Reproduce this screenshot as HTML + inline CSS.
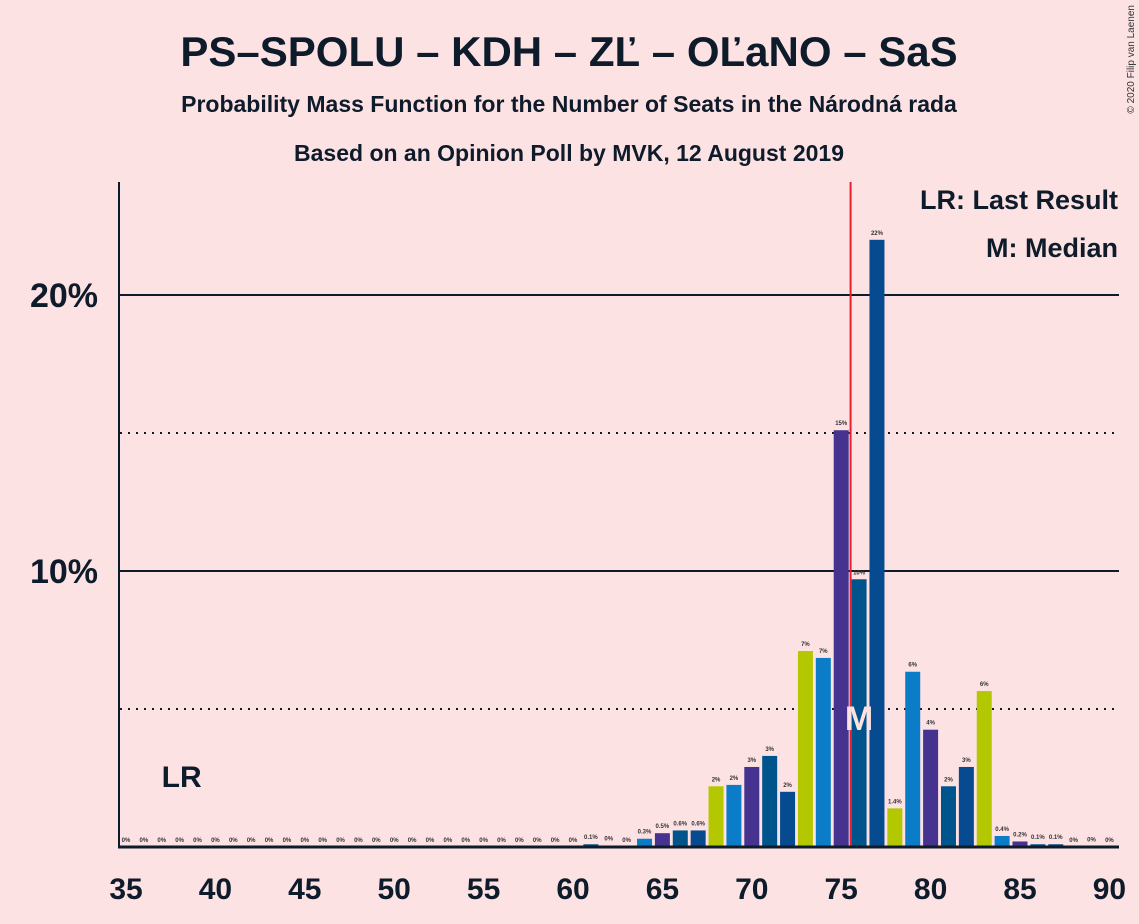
<!DOCTYPE html>
<html><head><meta charset="utf-8"><style>
body{margin:0;background:#fde2e4;font-family:"Liberation Sans",sans-serif;}
svg{display:block}
</style></head><body>
<svg width="1139" height="924" xmlns="http://www.w3.org/2000/svg">
<rect width="1139" height="924" fill="#fde2e4"/>
<text x="569" y="66" text-anchor="middle" font-size="42" font-weight="bold" fill="#0d1b2a">PS–SPOLU – KDH – ZĽ – OĽaNO – SaS</text>
<text x="569" y="112" text-anchor="middle" font-size="23" font-weight="bold" fill="#0d1b2a">Probability Mass Function for the Number of Seats in the Národná rada</text>
<text x="569" y="161" text-anchor="middle" font-size="23" font-weight="bold" fill="#0d1b2a">Based on an Opinion Poll by MVK, 12 August 2019</text>
<text x="1134" y="5" font-size="10" fill="#333" transform="rotate(-90 1134 5)" text-anchor="end">© 2020 Filip van Laenen</text>
<g id="grid"></g>
<g id="bars"></g>
<g id="labels"></g>
<line x1="119" y1="182" x2="119" y2="848" stroke="#0d1b2a" stroke-width="2"/>
<line x1="118" y1="847" x2="1119" y2="847" stroke="#0d1b2a" stroke-width="3"/>
<text x="1118" y="209" text-anchor="end" font-size="27" font-weight="bold" fill="#0d1b2a">LR: Last Result</text>
<text x="1118" y="257" text-anchor="end" font-size="27" font-weight="bold" fill="#0d1b2a">M: Median</text>
</svg>
<script>
const seats=[];for(let s=35;s<=90;s++)seats.push(s);
const probs=[0,0,0,0,0,0,0,0,0,0,0,0,0,0,0,0,0,0,0,0,0,0,0,0,0,0,0.1,0.05,0,0.3,0.5,0.6,0.6,2.2,2.25,2.9,3.3,2.0,7.1,6.85,15.1,9.7,22.0,1.4,6.35,4.25,2.2,2.9,5.65,0.4,0.2,0.1,0.1,0,0.02,0];
const valueLabels=["0%","0%","0%","0%","0%","0%","0%","0%","0%","0%","0%","0%","0%","0%","0%","0%","0%","0%","0%","0%","0%","0%","0%","0%","0%","0%","0.1%","0%","0%","0.3%","0.5%","0.6%","0.6%","2%","2%","3%","3%","2%","7%","7%","15%","10%","22%","1.4%","6%","4%","2%","3%","6%","0.4%","0.2%","0.1%","0.1%","0%","0%","0%"];
const xTicks=[35,40,45,50,55,60,65,70,75,80,85,90];
const yTicks=[10,20];const yDotted=[5,15];
const medianSeat=76, lastResult=38;
const colors=["#b3c800","#0b7dc8","#46338f","#00548c","#064b8f"];
const NS="http://www.w3.org/2000/svg";
const X=s=>126+(s-35)*17.88;
const Y=p=>847-p*27.6;
const grid=document.getElementById('grid'),bars=document.getElementById('bars'),labels=document.getElementById('labels');
function mk(tag,attrs,parent){const e=document.createElementNS(NS,tag);for(const k in attrs)e.setAttribute(k,attrs[k]);parent.appendChild(e);return e;}
yDotted.forEach(v=>{const l=mk('line',{x1:120,x2:1119,y1:Y(v),y2:Y(v),stroke:'#0d1b2a','stroke-width':2,'stroke-dasharray':'2,6'},grid);

});
yTicks.forEach(v=>{const l=mk('line',{x1:120,x2:1119,y1:Y(v),y2:Y(v),stroke:'#0d1b2a','stroke-width':2},grid);


const t=mk('text',{x:98,y:Y(v)+12,'text-anchor':'end','font-size':34,'font-weight':'bold',fill:'#0d1b2a'},labels);t.textContent=v+'%';

});
xTicks.forEach(v=>{const t=mk('text',{x:X(v),y:899,'text-anchor':'middle','font-size':30,'font-weight':'bold',fill:'#0d1b2a'},labels);t.textContent=v;

});
seats.forEach((s,i)=>{const p=probs[i];
if(p>0){const r=mk('rect',{x:X(s)-7.5,y:Y(p),width:15,height:847-Y(p),fill:colors[((s-63)%5+5)%5]},bars);

}
const t=mk('text',{x:X(s),y:Y(p)-5,'text-anchor':'middle','font-size':6,'font-weight':'bold',fill:'#333'},labels);t.textContent=valueLabels[i];

});
const ml=mk('line',{x1:X(medianSeat)-8.5,x2:X(medianSeat)-8.5,y1:182,y2:847,stroke:'#e8202a','stroke-width':2},bars);


const mt=mk('text',{x:X(medianSeat),y:730,'text-anchor':'middle','font-size':34,'font-weight':'bold',fill:'#fde2e4'},labels);mt.textContent='M';


const lt=mk('text',{x:X(lastResult)+2,y:787,'text-anchor':'middle','font-size':30,'font-weight':'bold',fill:'#0d1b2a'},labels);lt.textContent='LR';


</script>
</body></html>
